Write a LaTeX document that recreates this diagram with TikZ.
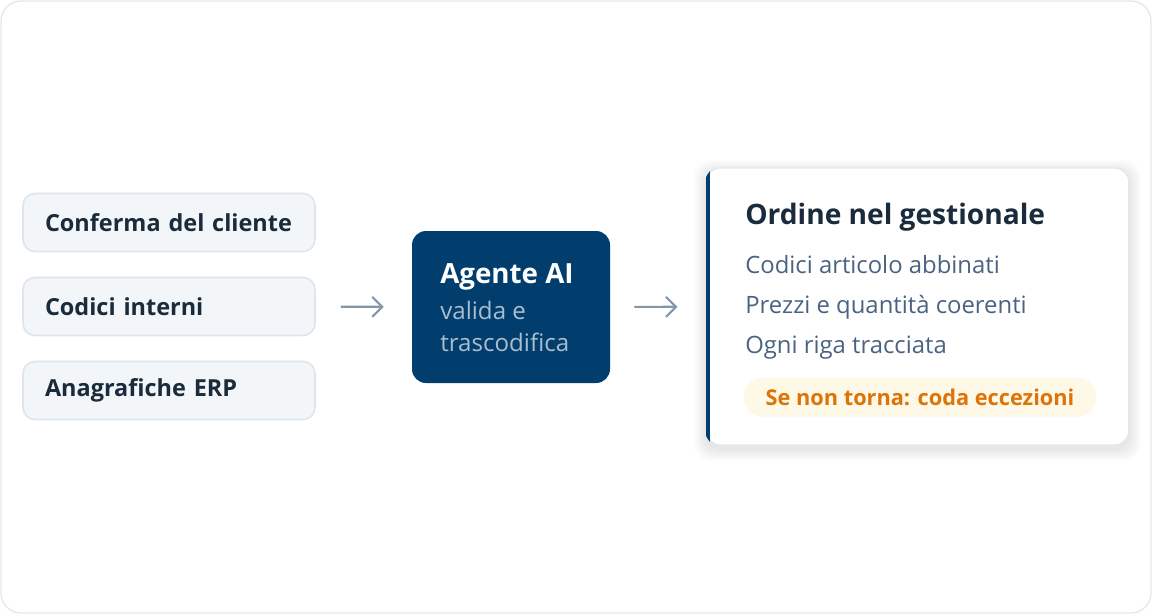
\documentclass[tikz,border=0pt]{standalone}
\usepackage{fontspec}
\setmainfont{Open Sans}
\usetikzlibrary{arrows.meta}

\definecolor{cornice}{HTML}{E3E8EF}
\definecolor{fondobox}{HTML}{F3F6F9}
\definecolor{bordobox}{HTML}{DFE5ED}
\definecolor{inchiostro}{HTML}{1A2B3C}
\definecolor{blunotte}{HTML}{023E6D}
\definecolor{sottotesto}{HTML}{A9BDD0}
\definecolor{voce}{HTML}{4A6381}
\definecolor{freccia}{HTML}{8497AA}
\definecolor{fondoavviso}{HTML}{FEF8E6}
\definecolor{arancio}{HTML}{DC7409}

\tikzset{
	sorgente/.style={draw=bordobox, line width=1.2pt, fill=fondobox, rounded corners=9pt,
		text width=186pt, align=left, inner xsep=16.5pt, minimum height=43.5pt,
		font=\fontsize{17.6}{20}\selectfont\bfseries, text=inchiostro},
	testo/.style={inner sep=0pt, anchor=base west},
	flusso/.style={draw=freccia, line width=1.6pt, -{Straight Barb[length=7.5pt, width=15pt]}},
}

\begin{document}
\begin{tikzpicture}[x=0.75pt, y=-0.75pt]
	\useasboundingbox (0,0) rectangle (1152,614);
	\draw[cornice, line width=1pt, fill=white, rounded corners=15pt] (1,1) rectangle (1151,613);
	% fonti
	\foreach \nome/\testo/\y in {conferma/Conferma del cliente/222.5, codici/Codici interni/306.5, anagrafiche/Anagrafiche ERP/390.5}
		\node[sorgente] (\nome) at (169, \y) {\testo};
	% agente
	\node[fill=blunotte, rounded corners=10.5pt, minimum width=148.5pt, minimum height=114pt] (agente) at (511, 307) {};
	\node[testo, text=white, font=\fontsize{20.8}{24}\selectfont\bfseries] (agentetitolo) at (440, 283) {Agente AI};
	\node[testo, text=sottotesto, font=\fontsize{18.1}{22}\selectfont] (agenteriga1) at (440, 319) {valida e};
	\node[testo, text=sottotesto, font=\fontsize{18.1}{22}\selectfont] (agenteriga2) at (440, 351) {trascodifica};
	% ombra
	\foreach \s in {1, ..., 12}
		\fill[blunotte, opacity=0.006, rounded corners=12pt] (706-\s, 172-\s) rectangle (1129+\s, 449+\s);
	% ordine
	\node[fill=white, draw=cornice, line width=1pt, rounded corners=10.5pt, minimum width=317pt, minimum height=207.75pt] (ordine) at (917.5, 306.5) {};
	\begin{scope}
		\clip[rounded corners=10.5pt] (ordine.south west) rectangle (ordine.north east);
		\fill[blunotte] (ordine.south west) rectangle ([xshift=3pt]ordine.north west);
	\end{scope}
	\node[testo, text=inchiostro, font=\fontsize{21.1}{25}\selectfont\bfseries] (titolo) at (745, 224) {Ordine nel gestionale};
	\foreach \testo [count=\i] in {Codici articolo abbinati, Prezzi e quantità coerenti, Ogni riga tracciata}
		\node[testo, text=voce, font=\fontsize{17.9}{21}\selectfont] (riga\i) at (745, 233+40*\i) {\testo};
	\node[fill=fondoavviso, rounded corners=14pt, minimum width=264pt, minimum height=29.25pt, inner sep=0pt,
		text=arancio, font=\fontsize{16.3}{19}\selectfont\bfseries] (eccezioni) at (920, 397) {Se non torna: coda eccezioni};
	% frecce
	\draw[flusso, shorten <=18.75pt, shorten >=21pt] (codici) -- (agente);
	\draw[flusso, shorten <=18pt, shorten >=21pt] (agente) -- (ordine);
\end{tikzpicture}
\end{document}
